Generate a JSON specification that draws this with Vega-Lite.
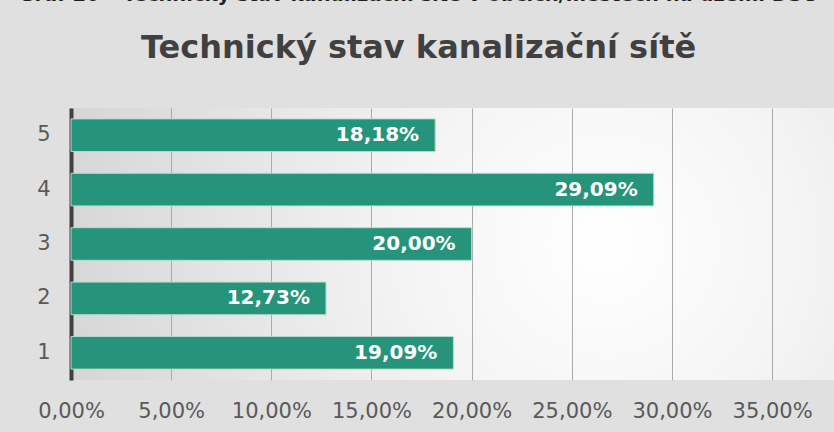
{
  "$schema": "https://vega.github.io/schema/vega-lite/v6.json",
  "autosize": {"type": "none"},
  "width": 763,
  "height": 272,
  "padding": {"left": 71, "top": 108, "right": 0, "bottom": 52},
  "background": "#e0e0e0",
  "title": {
    "text": "Graf 26 – Technický stav kanalizační sítě v obcích/městech na území DSO",
    "subtitle": "Technický stav kanalizační sítě",
    "anchor": "middle",
    "frame": "group",
    "baseline": "alphabetic",
    "dx": -34,
    "offset": 28,
    "font": "DejaVu Sans",
    "fontSize": 19.5,
    "fontWeight": "bold",
    "color": "#1f1f1f",
    "subtitleFont": "DejaVu Sans",
    "subtitleFontSize": 32,
    "subtitleFontWeight": "bold",
    "subtitleColor": "#404040",
    "subtitlePadding": 38
  },
  "data": {
    "values": [
      {"kategorie": "5", "podil": 0.1818},
      {"kategorie": "4", "podil": 0.2909},
      {"kategorie": "3", "podil": 0.2000},
      {"kategorie": "2", "podil": 0.1273},
      {"kategorie": "1", "podil": 0.1909}
    ]
  },
  "encoding": {
    "y": {
      "field": "kategorie",
      "type": "nominal",
      "sort": ["5", "4", "3", "2", "1"],
      "scale": {"paddingInner": 0.4, "paddingOuter": 0.2},
      "axis": {
        "title": null,
        "ticks": false,
        "domainColor": "#404040",
        "domainWidth": 4,
        "labelFont": "DejaVu Sans",
        "labelFontSize": 21,
        "labelColor": "#595959",
        "labelPadding": 21
      }
    },
    "x": {
      "field": "podil",
      "type": "quantitative",
      "scale": {"domain": [0, 0.3809], "nice": false, "zero": true},
      "axis": {
        "title": null,
        "values": [0, 0.05, 0.1, 0.15, 0.2, 0.25, 0.3, 0.35],
        "format": ".2%",
        "domain": false,
        "ticks": false,
        "grid": true,
        "gridColor": "#aaaaaa",
        "gridWidth": 1,
        "labelFont": "DejaVu Sans",
        "labelFontSize": 21,
        "labelColor": "#595959",
        "labelPadding": 20,
        "labelFlush": false
      }
    }
  },
  "layer": [
    {
      "mark": {"type": "bar", "color": "#26947a", "stroke": "#b5dccf", "strokeWidth": 1}
    },
    {
      "mark": {
        "type": "text",
        "align": "right",
        "baseline": "middle",
        "dx": -16,
        "font": "DejaVu Sans",
        "fontSize": 20,
        "fontWeight": "bold",
        "color": "white"
      },
      "encoding": {
        "text": {"field": "podil", "type": "quantitative", "format": ".2%"}
      }
    }
  ],
  "config": {
    "locale": {
      "number": {
        "decimal": ",",
        "thousands": " ",
        "grouping": [3],
        "currency": ["", " Kč"]
      }
    },
    "view": {
      "stroke": null,
      "fill": {
        "gradient": "radial",
        "x1": 0.7, "y1": 0.5, "r1": 0,
        "x2": 0.7, "y2": 0.5, "r2": 0.75,
        "stops": [
          {"offset": 0, "color": "#ffffff"},
          {"offset": 0.35, "color": "#f4f4f4"},
          {"offset": 1, "color": "#d4d4d4"}
        ]
      }
    }
  }
}
